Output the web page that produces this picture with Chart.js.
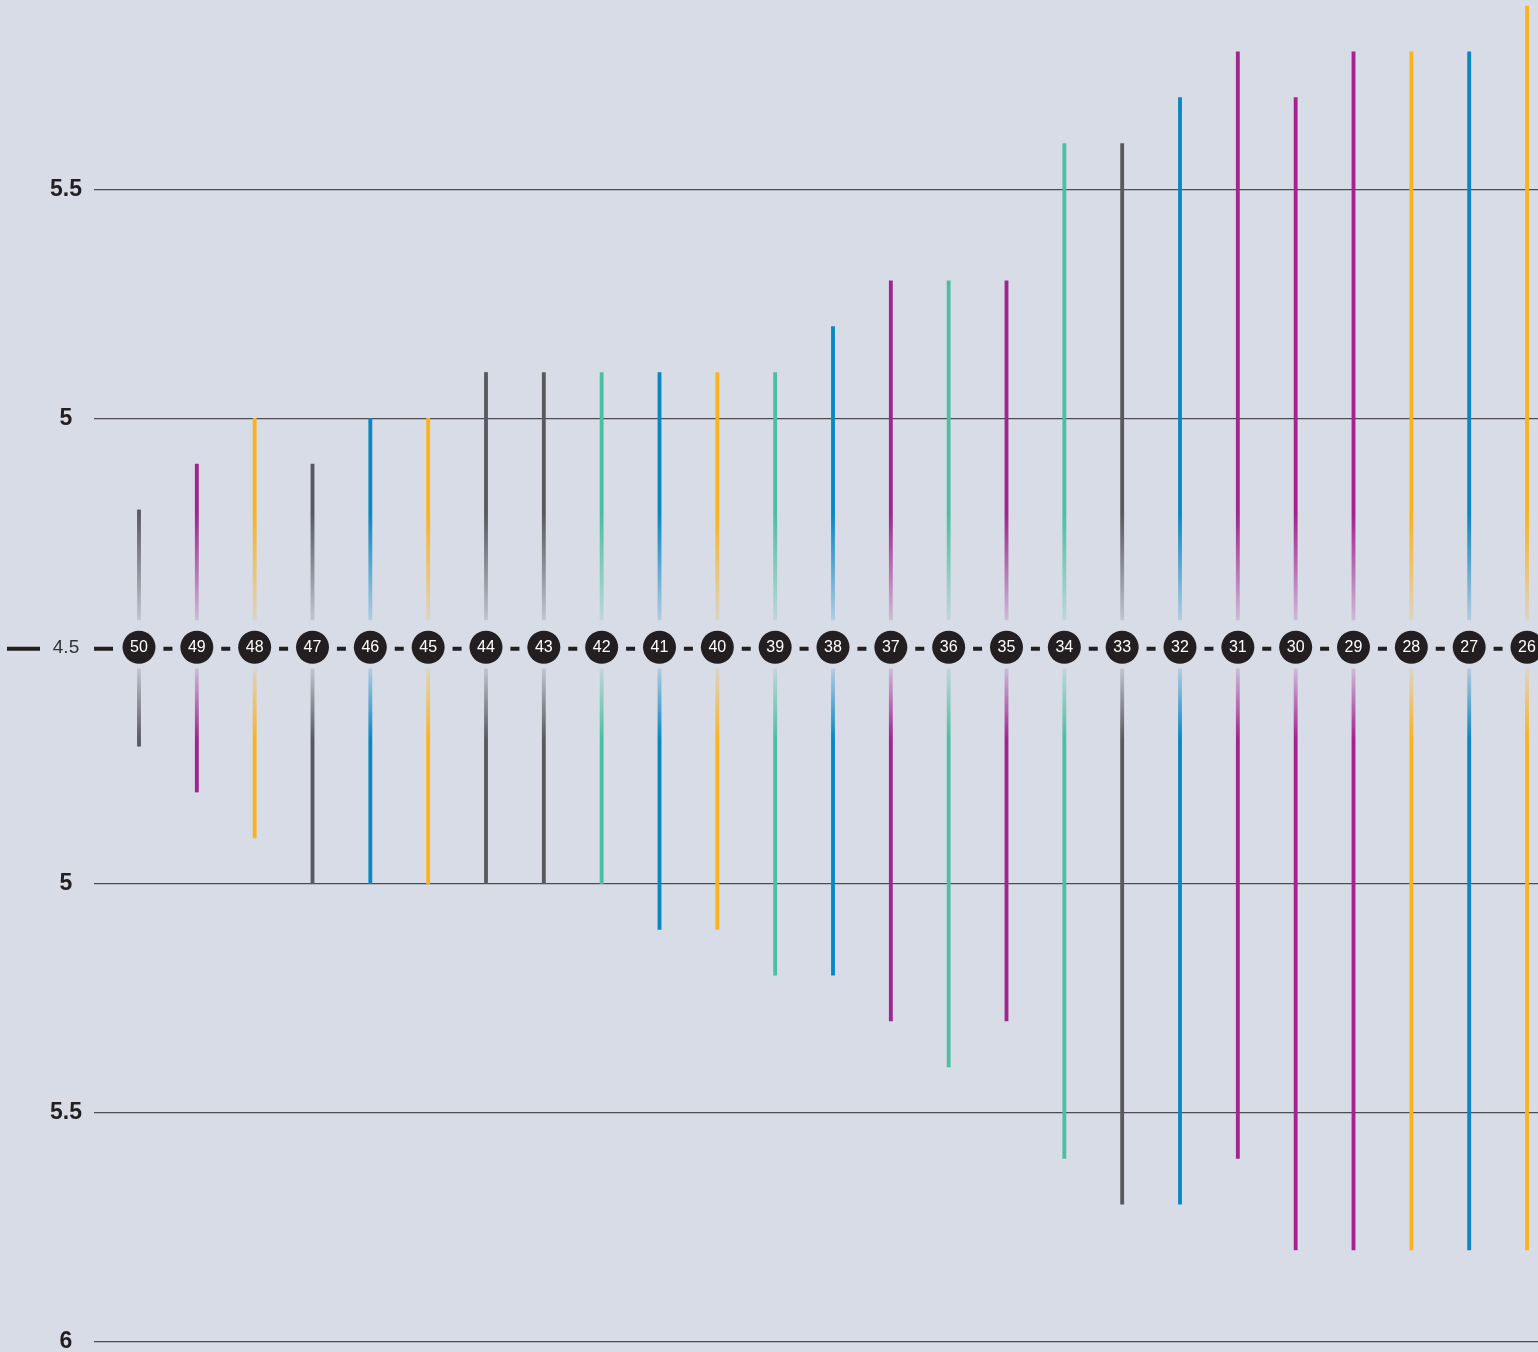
<!DOCTYPE html>
<html lang="en">
<head>
<meta charset="UTF-8">
<meta name="viewport" content="width=device-width, initial-scale=1.0">
<title>Range chart 50 - 26</title>
<script src="https://cdn.jsdelivr.net/npm/chart.js"></script>
<style>
  html, body { margin: 0; padding: 0; background: #d7dce7; overflow: hidden; }
  #wrap { width: 1538px; height: 1352px; position: relative; }
</style>
</head>
<body>
<div id="wrap"><canvas id="chart"></canvas></div>
<script>
// --- data ---
const labels = ['50','49','48','47','46','45','44','43','42','41','40','39','38','37','36','35','34','33','32','31','30','29','28','27','26'];
const upperValues = [4.8, 4.9, 5.0, 4.9, 5.0, 5.0, 5.1, 5.1, 5.1, 5.1, 5.1, 5.1, 5.2, 5.3, 5.3, 5.3, 5.6, 5.6, 5.7, 5.8, 5.7, 5.8, 5.8, 5.8, 5.9];
const lowerValues = [4.7, 4.8, 4.9, 5.0, 5.0, 5.0, 5.0, 5.0, 5.0, 5.1, 5.1, 5.2, 5.2, 5.3, 5.4, 5.3, 5.6, 5.7, 5.7, 5.6, 5.8, 5.8, 5.8, 5.8, 5.8];
const barColors = ['gray','magenta','orange','gray','blue','orange','gray','gray','teal','blue','orange','teal','blue','magenta','teal','magenta','teal','gray','blue','magenta','magenta','magenta','orange','blue','orange'];
const centerValue = 4.5;
const upperTicks = [5.5, 5];
const lowerTicks = [5, 5.5, 6];

// --- styling / layout ---
const PALETTE = {
  gray: '#5a5a5e',
  magenta: '#a3238f',
  orange: '#fbb21b',
  blue: '#0a86c3',
  teal: '#4cbf9e'
};
const INK = '#231f20';
const GAP_UP = 0.06;     // space left above the marker
const GAP_DOWN = 0.047;  // space left below the marker
const FADE_UP = 0.29;    // where the upper bars reach full colour
const FADE_DOWN = 0.2;
const MID_GAP = 0.016;   // lower half sits slightly further from the centre

const up = v => v - centerValue;
const down = v => -(v - centerValue) - MID_GAP;

const tickPos = [...upperTicks.map(up), 0, ...lowerTicks.map(down)];
const tickText = [...upperTicks.map(String), String(centerValue), ...lowerTicks.map(String)];

function rgba(hex, a) {
  const n = parseInt(hex.slice(1), 16);
  return `rgba(${(n >> 16) & 255},${(n >> 8) & 255},${n & 255},${a})`;
}

function barFill(side) {
  return (ctx) => {
    const chart = ctx.chart;
    const hex = PALETTE[barColors[ctx.dataIndex]];
    if (!chart.chartArea) return hex;
    const y = chart.scales.y;
    const y0 = y.getPixelForValue(side === 'up' ? GAP_UP : -GAP_DOWN);
    const y1 = y.getPixelForValue(side === 'up' ? FADE_UP : -FADE_DOWN);
    const g = chart.ctx.createLinearGradient(0, y0, 0, y1);
    g.addColorStop(0, rgba(hex, 0.18));
    g.addColorStop(0.5, rgba(hex, 0.6));
    g.addColorStop(1, rgba(hex, 1));
    return g;
  };
}

const centerLine = {
  id: 'centerLine',
  beforeDatasetsDraw(chart) {
    const { ctx, chartArea, scales: { x, y } } = chart;
    const cy = y.getPixelForValue(0) + 1.5;
    ctx.save();
    ctx.strokeStyle = INK;
    ctx.lineWidth = 4;
    ctx.beginPath();
    ctx.moveTo(7, cy); ctx.lineTo(40, cy);
    ctx.moveTo(chartArea.left, cy); ctx.lineTo(x.getPixelForValue(0) - 26, cy);
    for (let i = 0; i < labels.length - 1; i++) {
      const m = (x.getPixelForValue(i) + x.getPixelForValue(i + 1)) / 2;
      ctx.moveTo(m - 4.5, cy); ctx.lineTo(m + 4.5, cy);
    }
    ctx.stroke();
    ctx.restore();
  },
  afterDatasetsDraw(chart) {
    const { ctx, scales: { x, y } } = chart;
    ctx.save();
    ctx.fillStyle = '#ffffff';
    ctx.font = '16px "Liberation Sans", Arial, sans-serif';
    ctx.textAlign = 'center';
    ctx.textBaseline = 'middle';
    labels.forEach((lab, i) => {
      ctx.fillText(lab, x.getPixelForValue(i), y.getPixelForValue(0) + 0.5);
    });
    ctx.restore();
  }
};

new Chart(document.getElementById('chart'), {
  type: 'bar',
  data: {
    datasets: [
      {
        type: 'scatter',
        data: labels.map((_, i) => ({ x: i, y: 0 })),
        pointRadius: 16.5,
        pointHoverRadius: 16.5,
        backgroundColor: INK,
        borderWidth: 0
      },
      {
        data: upperValues.map((v, i) => ({ x: i, y: [GAP_UP, up(v)] })),
        backgroundColor: barFill('up'),
        barThickness: 3.2,
        grouped: false,
        borderWidth: 0
      },
      {
        data: lowerValues.map((v, i) => ({ x: i, y: [-GAP_DOWN, down(v)] })),
        backgroundColor: barFill('down'),
        barThickness: 3.2,
        grouped: false,
        borderWidth: 0
      }
    ]
  },
  options: {
    responsive: true,
    maintainAspectRatio: false,
    animation: false,
    layout: { padding: 0, autoPadding: false },
    plugins: { legend: { display: false }, tooltip: { enabled: false } },
    scales: {
      x: {
        type: 'linear',
        min: -0.778,
        max: 24.19,
        offset: false,
        display: false
      },
      y: {
        type: 'linear',
        min: -1.5387,
        max: 1.4133,
        bounds: 'data',
        border: { display: false },
        grid: {
          drawTicks: false,
          lineWidth: 1.2,
          color: (ctx) => (ctx.tick && ctx.tick.value === 0) ? 'rgba(0,0,0,0)' : '#4c4c52'
        },
        afterBuildTicks: (scale) => {
          scale.ticks = tickPos.map(v => ({ value: v }));
        },
        afterFit: (scale) => {
          scale.width = 94;
          scale.paddingTop = 0;
          scale.paddingBottom = 0;
        },
        ticks: {
          autoSkip: false,
          crossAlign: 'center',
          padding: 12,
          callback: (value, index) => tickText[index],
          color: (ctx) => (ctx.tick && ctx.tick.value === 0) ? '#333336' : INK,
          font: (ctx) => (ctx.tick && ctx.tick.value === 0)
            ? { family: '"Liberation Sans", Arial, sans-serif', size: 19, weight: 'normal' }
            : { family: '"Liberation Sans", Arial, sans-serif', size: 23, weight: 'bold' }
        }
      }
    }
  },
  plugins: [centerLine]
});
</script>
</body>
</html>
